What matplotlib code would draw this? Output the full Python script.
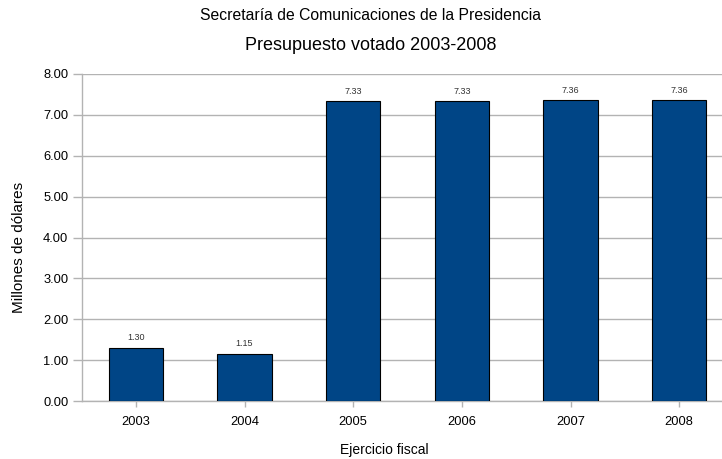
import matplotlib
matplotlib.use("Agg")
import matplotlib.pyplot as plt

years = ["2003", "2004", "2005", "2006", "2007", "2008"]
values = [1.30, 1.15, 7.33, 7.33, 7.36, 7.36]
yticks = [0, 1, 2, 3, 4, 5, 6, 7, 8]

plt.rcParams['font.family'] = ['Liberation Sans', 'DejaVu Sans']

W, H = 722, 459
fig = plt.figure(figsize=(W / 100, H / 100), dpi=100)
left, right, top, bottom = 81.5, 733.5, 74, 401
ax = fig.add_axes([left / W, 1 - bottom / H, (right - left) / W, (bottom - top) / H])

x = list(range(len(years)))
ax.bar(x, values, width=0.5, color='#004586', edgecolor='#000000', linewidth=0.8, zorder=3)
for xi, v in zip(x, values):
    ax.annotate(f"{v:.2f}", (xi, v), xytext=(0, 4), textcoords='offset points',
                ha='center', va='bottom', fontsize=6.5, color='#333333')

ax.set_xlim(-0.5, 5.5)
ax.set_ylim(0, 8)
ax.set_yticks(yticks)
ax.set_yticklabels([f"{t:.2f}" for t in yticks])
ax.set_xticks(x)
ax.set_xticklabels(years)
ax.yaxis.grid(True, color='#b3b3b3', linewidth=1, zorder=0)
ax.set_axisbelow(True)
for s in ['top', 'right']:
    ax.spines[s].set_visible(False)
for s in ['left', 'bottom']:
    ax.spines[s].set_color('#b3b3b3')
    ax.spines[s].set_linewidth(1)
ax.tick_params(axis='y', length=6.5, width=1, color='#b3b3b3', pad=3, labelsize=9.3, labelcolor='#000000')
ax.tick_params(axis='x', length=4.5, width=1, color='#b3b3b3', pad=6, labelsize=9.3, labelcolor='#000000')

fig.text(371 / W, 1 - 16 / H, "Secretaría de Comunicaciones de la Presidencia",
         ha='center', va='center', fontsize=11.3)
fig.text(371 / W, 1 - 45 / H, "Presupuesto votado 2003-2008",
         ha='center', va='center', fontsize=13)
fig.text(384 / W, 1 - 450 / H, "Ejercicio fiscal", ha='center', va='center', fontsize=10)
fig.text(19 / W, 1 - 247 / H, "Millones de dólares", ha='center', va='center',
         rotation=90, fontsize=11)

fig.savefig("out.png", dpi=100)
